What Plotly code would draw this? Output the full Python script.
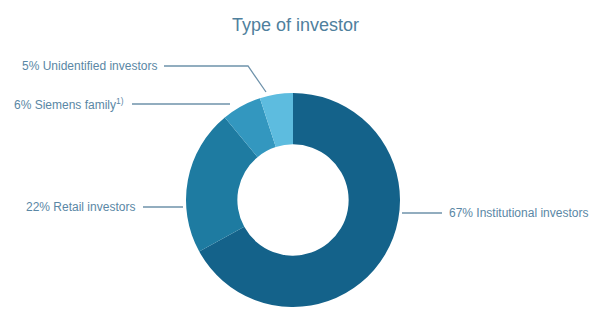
import plotly.graph_objects as go

categories = ["Institutional investors", "Retail investors", "Siemens family<sup>1)</sup>", "Unidentified investors"]
values = [67, 22, 6, 5]
colors = ["#14628A", "#1E7BA1", "#3397BF", "#5DBCDF"]

W, H = 595, 318
def px(x):
    return x / W
def py(y):
    return 1 - y / H

fig = go.Figure(go.Pie(
    labels=categories, values=values, sort=False, direction="clockwise", rotation=0,
    hole=0.52, textinfo="none", hoverinfo="label+percent",
    marker=dict(colors=colors, line=dict(width=0)),
    domain=dict(x=[px(186), px(400)], y=[py(307), py(93)]),
    showlegend=False,
))

txt_color = "#5A87A5"
line_color = "#6E92AA"
font = dict(family="Liberation Sans, Arial, sans-serif", size=12, color=txt_color)

# label layout: (text x anchor px, y px, xanchor, line points)
labels_layout = [
    (447, 213, "left", [(402, 213), (442, 213)]),
    (137, 207, "right", [(143, 207), (183, 207)]),
    (126, 104, "right", [(132, 104), (230, 104)]),
    (159, 66, "right", [(164, 66), (248, 66), (266, 92)]),
]

annotations = []
shapes = []
for cat, v, (x, y, anchor, pts) in zip(categories, values, labels_layout):
    annotations.append(dict(x=px(x), y=py(y), xref="paper", yref="paper", text=f"{v}% {cat}",
                            showarrow=False, xanchor=anchor, yanchor="middle", font=font))
    path = "M " + " L ".join(f"{px(a)},{py(b)}" for a, b in pts)
    shapes.append(dict(type="path", path=path, xref="paper", yref="paper",
                       line=dict(color=line_color, width=1.3)))

annotations.append(dict(x=px(295), y=py(25), xref="paper", yref="paper", text="Type of investor",
                        showarrow=False, xanchor="center", yanchor="middle",
                        font=dict(family="Liberation Sans, Arial, sans-serif", size=18, color="#4F809D")))

fig.update_layout(width=W, height=H, margin=dict(l=0, r=0, t=0, b=0),
                  paper_bgcolor="white", plot_bgcolor="white",
                  annotations=annotations, shapes=shapes)

fig.write_html("out.html")
